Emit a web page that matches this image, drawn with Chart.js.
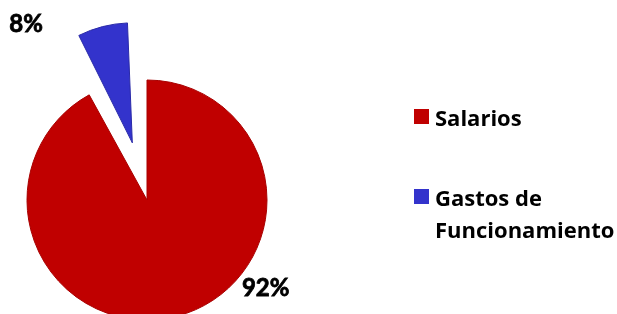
<!DOCTYPE html>
<html>
<head>
<meta charset="utf-8">
<script src="https://cdn.jsdelivr.net/npm/chart.js@4"></script>
<style>
  html, body { margin: 0; padding: 0; background: #fff; }
  #wrap { position: relative; width: 617px; height: 314px; }
  #legend { position: absolute; left: 414px; top: 0; font-family: 'Open Sans', Lato, sans-serif; font-weight: bold; font-size: 22px; color: #000; }
  .lg-item { position: absolute; left: 0; white-space: nowrap; }
  .lg-box { position: absolute; left: 0; width: 15px; height: 15px; }
  .lg-text { position: absolute; left: 21px; line-height: 32px; }
</style>
</head>
<body>
<div id="wrap">
  <canvas id="chart-pie" width="617" height="314"></canvas>
  <div id="legend"></div>
</div>
<script>
// ── data ──
const labels  = [['Salarios'], ['Gastos de', 'Funcionamiento']];
const values  = [92, 8];
const pctText = ['92%', '8%'];
const colors  = ['#c00000', '#3333cc'];

// explode distance of each slice (px) and label placement (deg, share of radius)
const explode    = [0, 59];
const labelAngle = [36.5, -124.5];
const labelDist  = [1.23, 1.78];
const RADIUS = 120;

// Chart.js draws an arc's offset at 1/4 and grows its radius with it;
// keep the exploded slice at the same radius as the rest
const keepRadius = {
  id: 'keepRadius',
  beforeDatasetsDraw(chart) {
    chart.getDatasetMeta(0).data.forEach((arc, i) => {
      const fix = 1 - Math.sin(Math.min(Math.PI, arc.circumference));
      arc.outerRadius = RADIUS - explode[i] * fix;
    });
  }
};

const pctLabels = {
  id: 'pctLabels',
  afterDatasetsDraw(chart) {
    const ctx = chart.ctx;
    const arcs = chart.getDatasetMeta(0).data;
    ctx.save();
    ctx.font = 'bold 24px Lato, "Open Sans", sans-serif';
    ctx.fillStyle = '#000';
    ctx.strokeStyle = '#000';
    ctx.lineWidth = 0.8;
    ctx.textAlign = 'center';
    ctx.textBaseline = 'middle';
    arcs.forEach((arc, i) => {
      const a = labelAngle[i] * Math.PI / 180;
      const d = RADIUS * labelDist[i];
      const x = arc.x + Math.cos(a) * d, y = arc.y + Math.sin(a) * d;
      ctx.fillText(pctText[i], x, y);
      ctx.strokeText(pctText[i], x, y);
    });
    ctx.restore();
  }
};

new Chart(document.getElementById('chart-pie').getContext('2d'), {
  type: 'pie',
  data: {
    labels: labels.map(l => l.join(' ')),
    datasets: [{
      data: values,
      backgroundColor: colors,
      borderColor: ['#a80000', '#2a2aa8'],
      borderWidth: 1,
      offset: explode.map(e => e * 4),
      clip: false
    }]
  },
  options: {
    responsive: false,
    animation: false,
    radius: RADIUS,
    layout: { padding: { left: 0, right: 323, top: 86, bottom: 0 } },
    plugins: { legend: { display: false }, tooltip: { enabled: false } }
  },
  plugins: [keepRadius, pctLabels]
});

// legend on the right
const legendTops = [101, 181];
document.getElementById('legend').innerHTML = labels.map((l, i) => `
  <div class="lg-item" style="top:${legendTops[i]}px">
    <div class="lg-box" style="top:8px;background:${colors[i]}"></div>
    <div class="lg-text">${l.join('<br>')}</div>
  </div>`).join('');
</script>
</body>
</html>
